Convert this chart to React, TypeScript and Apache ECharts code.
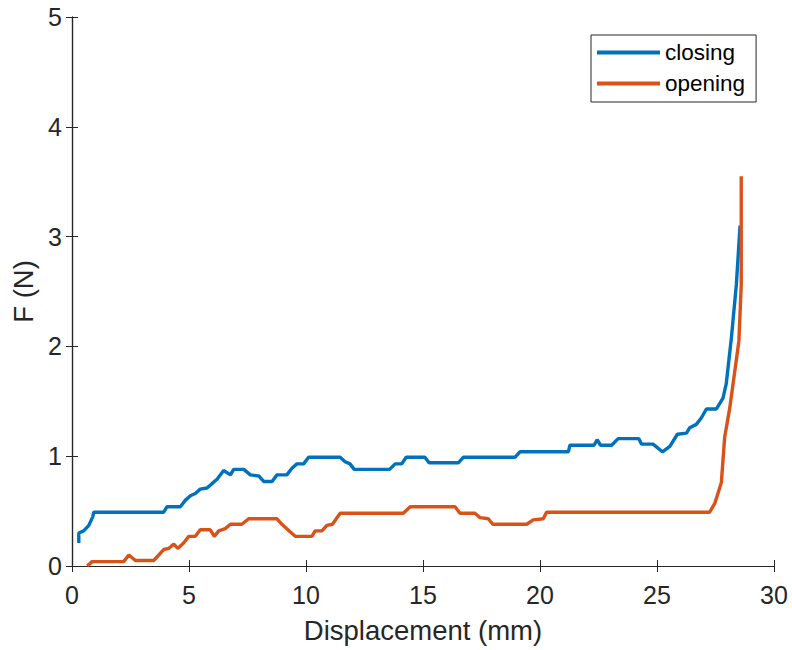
import React, { useEffect, useRef } from "react";
import * as echarts from "echarts";

const xTicks = [0, 5, 10, 15, 20, 25, 30];
const yTicks = [0, 1, 2, 3, 4, 5];

const closingX = [0.29, 0.29, 0.5, 0.72, 0.89, 0.93, 3.92, 4.06, 4.63, 4.85, 5.06, 5.27, 5.48, 5.77, 5.98, 6.2, 6.48, 6.77, 6.91, 7.34, 7.62, 7.98, 8.19, 8.55, 8.76, 9.18, 9.4, 9.61, 9.9, 10.11, 11.46, 11.67, 11.88, 12.06, 13.57, 13.81, 14.09, 14.28, 15.08, 15.26, 16.51, 16.72, 18.93, 19.14, 21.21, 21.28, 22.31, 22.44, 22.59, 23.06, 23.34, 24.22, 24.34, 24.83, 25.23, 25.55, 25.87, 26.26, 26.4, 26.68, 26.9, 27.11, 27.54, 27.82, 27.96, 28.18, 28.39, 28.55];
const closingY = [0.21, 0.3, 0.32, 0.37, 0.45, 0.49, 0.49, 0.54, 0.54, 0.6, 0.64, 0.66, 0.7, 0.71, 0.75, 0.79, 0.87, 0.83, 0.88, 0.88, 0.83, 0.82, 0.77, 0.77, 0.83, 0.83, 0.89, 0.93, 0.93, 0.99, 0.99, 0.95, 0.93, 0.88, 0.88, 0.93, 0.93, 0.99, 0.99, 0.94, 0.94, 0.99, 0.99, 1.04, 1.04, 1.1, 1.1, 1.15, 1.1, 1.1, 1.16, 1.16, 1.11, 1.11, 1.04, 1.09, 1.2, 1.21, 1.26, 1.29, 1.35, 1.43, 1.43, 1.53, 1.66, 2.08, 2.56, 3.1];

const openingX = [0.65, 0.86, 2.21, 2.43, 2.71, 3.49, 3.92, 4.13, 4.35, 4.52, 4.77, 4.99, 5.27, 5.48, 5.91, 6.08, 6.27, 6.55, 6.77, 7.26, 7.55, 8.76, 8.97, 9.33, 9.54, 10.25, 10.39, 10.68, 10.89, 11.13, 11.46, 14.16, 14.45, 16.37, 16.58, 17.22, 17.44, 17.79, 17.98, 19.43, 19.71, 20.14, 20.28, 27.25, 27.47, 27.75, 27.89, 28.11, 28.5, 28.6, 28.6];
const openingY = [0, 0.04, 0.04, 0.1, 0.05, 0.05, 0.15, 0.16, 0.2, 0.16, 0.21, 0.27, 0.27, 0.33, 0.33, 0.27, 0.32, 0.34, 0.38, 0.38, 0.43, 0.43, 0.38, 0.31, 0.27, 0.27, 0.32, 0.32, 0.37, 0.38, 0.48, 0.48, 0.54, 0.54, 0.48, 0.48, 0.44, 0.43, 0.38, 0.38, 0.42, 0.43, 0.49, 0.49, 0.57, 0.76, 1.17, 1.44, 2.05, 2.56, 3.55];

const seriesNames = ["closing", "opening"];
const seriesColors = ["#0072BD", "#D95319"];

const FONT = "Liberation Sans, Arial, Helvetica, sans-serif";
const AXIS_COLOR = "#262626";

export default function App() {
  const ref = useRef<HTMLDivElement>(null);

  useEffect(() => {
    if (!ref.current) return;
    const chart = echarts.init(ref.current, null, { renderer: "svg" });

    const closingData = closingX.map((x, i) => [x, closingY[i]]);
    const openingData = openingX.map((x, i) => [x, openingY[i]]);

    const xMin = xTicks[0];
    const xMax = xTicks[xTicks.length - 1];
    const xInt = xTicks[1] - xTicks[0];
    const yMin = yTicks[0];
    const yMax = yTicks[yTicks.length - 1];
    const yInt = yTicks[1] - yTicks[0];

    const axisLine = { show: true, lineStyle: { color: AXIS_COLOR, width: 1.2 } };
    const tickInside = { show: true, inside: true, length: 6, lineStyle: { color: AXIS_COLOR, width: 1 } };
    const labelStyle = { color: AXIS_COLOR, fontFamily: FONT, fontSize: 25 };

    chart.setOption({
      animation: false,
      backgroundColor: "#ffffff",
      grid: { left: 72, right: 18, top: 17, bottom: 84, containLabel: false },
      legend: {
        data: seriesNames,
        orient: "vertical",
        left: 591,
        top: 35,
        backgroundColor: "#ffffff",
        borderColor: AXIS_COLOR,
        borderWidth: 1,
        padding: [6, 11, 7, 6],
        itemGap: 8,
        itemWidth: 63,
        itemHeight: 4,
        icon: "rect",
        textStyle: { color: "#000000", fontFamily: FONT, fontSize: 22.5 },
      },
      xAxis: [
        {
          type: "value",
          min: xMin,
          max: xMax,
          interval: xInt,
          position: "bottom",
          name: "Displacement (mm)",
          nameLocation: "middle",
          nameGap: 50,
          nameTextStyle: { color: AXIS_COLOR, fontFamily: FONT, fontSize: 27.5 },
          axisLine,
          axisTick: tickInside,
          axisLabel: { ...labelStyle, margin: 16 },
          splitLine: { show: false },
        },
        {
          type: "value",
          min: xMin,
          max: xMax,
          interval: xInt,
          position: "top",
          axisLine,
          axisTick: tickInside,
          axisLabel: { show: false },
          splitLine: { show: false },
        },
      ],
      yAxis: [
        {
          type: "value",
          min: yMin,
          max: yMax,
          interval: yInt,
          position: "left",
          name: "F (N)",
          nameLocation: "middle",
          nameGap: 32,
          nameRotate: 90,
          nameTextStyle: { color: AXIS_COLOR, fontFamily: FONT, fontSize: 27.5 },
          axisLine,
          axisTick: tickInside,
          axisLabel: { ...labelStyle, margin: 10 },
          splitLine: { show: false },
        },
        {
          type: "value",
          min: yMin,
          max: yMax,
          interval: yInt,
          position: "right",
          axisLine,
          axisTick: tickInside,
          axisLabel: { show: false },
          splitLine: { show: false },
        },
      ],
      series: [
        {
          name: seriesNames[0],
          type: "line",
          data: closingData,
          showSymbol: false,
          symbol: "none",
          color: seriesColors[0],
          lineStyle: { color: seriesColors[0], width: 3.4 },
          xAxisIndex: 0,
          yAxisIndex: 0,
        },
        {
          name: seriesNames[1],
          type: "line",
          data: openingData,
          showSymbol: false,
          symbol: "none",
          color: seriesColors[1],
          lineStyle: { color: seriesColors[1], width: 3.4 },
          xAxisIndex: 0,
          yAxisIndex: 0,
        },
      ],
    });

    return () => chart.dispose();
  }, []);

  return <div ref={ref} style={{ width: 792, height: 650, position: "absolute", left: 0, top: 0 }} />;
}
